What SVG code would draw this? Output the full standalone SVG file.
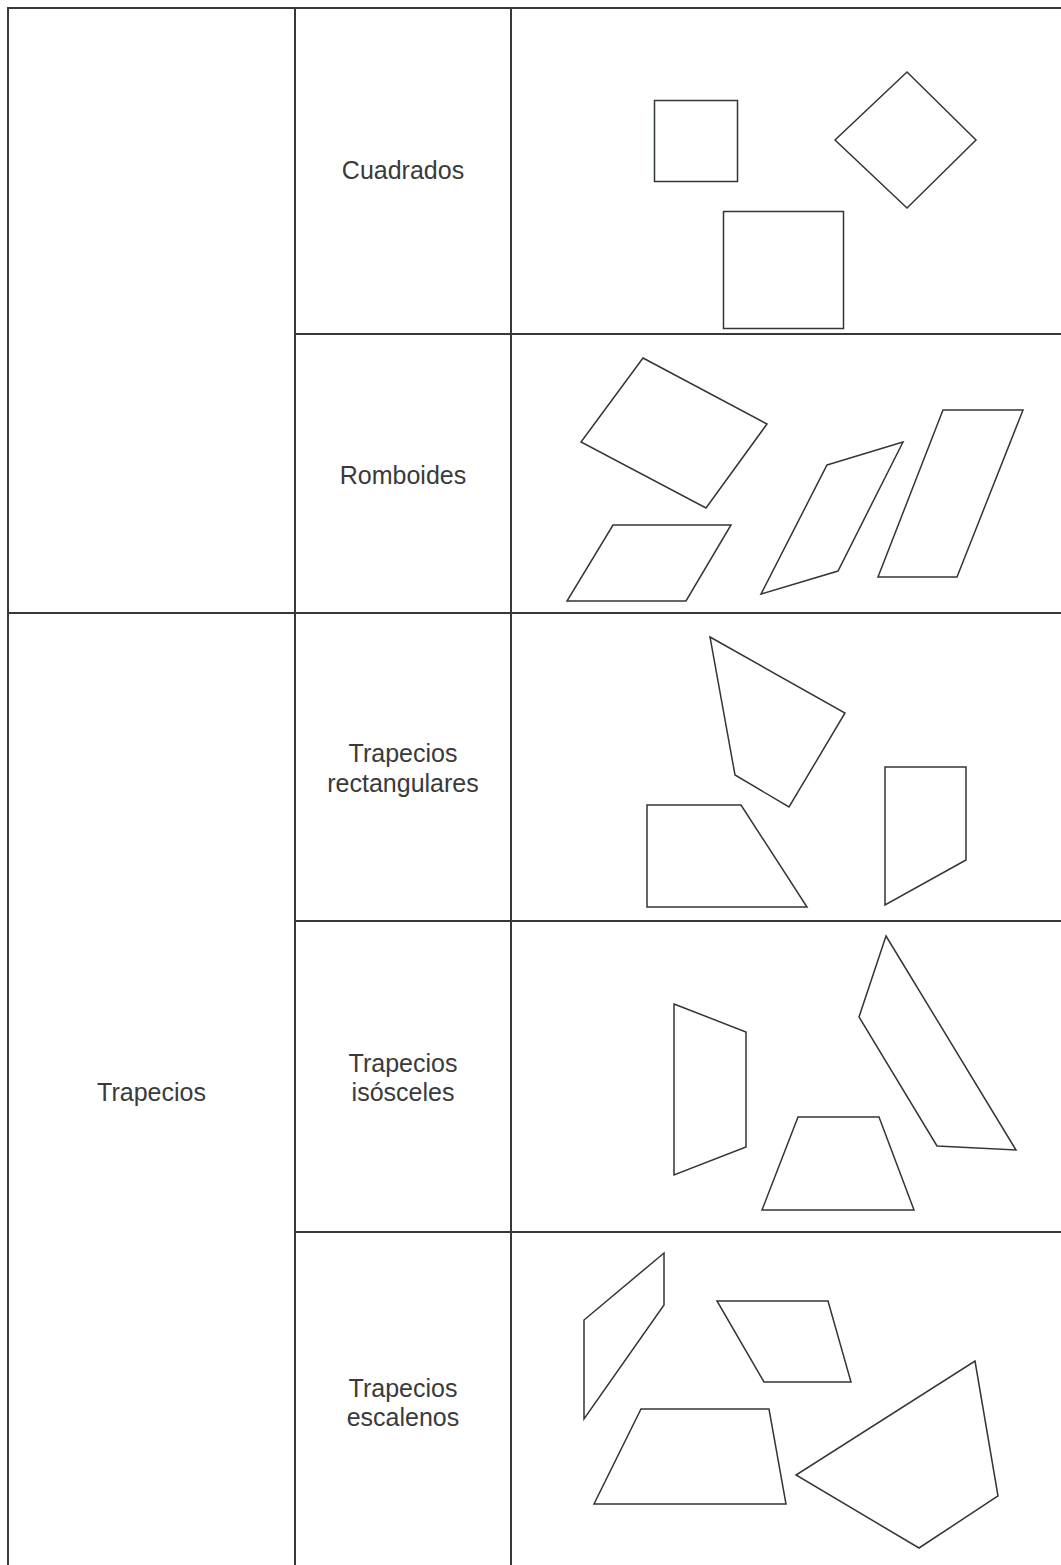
<svg xmlns="http://www.w3.org/2000/svg" width="1061" height="1565" viewBox="0 0 1061 1565">
<style>
.grid{stroke:#383838;stroke-width:2;fill:none}
.shp{stroke:#2f3833;stroke-width:1.5;fill:none;stroke-linejoin:miter}
.lbl{font-family:"Liberation Sans",Arial,sans-serif;font-size:25px;fill:#3a3a3a;text-anchor:middle}
</style>
<rect width="1061" height="1565" fill="#ffffff"/>
<g id="table-grid">
<line class="grid" x1="7" y1="8" x2="1061" y2="8"/>
<line class="grid" x1="8" y1="7" x2="8" y2="1565"/>
<line class="grid" x1="295" y1="8" x2="295" y2="1565"/>
<line class="grid" x1="511" y1="8" x2="511" y2="1565"/>
<line class="grid" x1="295" y1="334" x2="1061" y2="334"/>
<line class="grid" x1="8" y1="613" x2="1061" y2="613"/>
<line class="grid" x1="295" y1="921" x2="1061" y2="921"/>
<line class="grid" x1="295" y1="1232" x2="1061" y2="1232"/>
</g>
<g id="label-trapecios">
<text class="lbl" x="151.5" y="1101">Trapecios</text>
</g>
<g id="row-cuadrados">
<text class="lbl" x="403" y="179">Cuadrados</text>
<rect class="shp" x="654.5" y="100.5" width="83" height="81"/>
<polygon class="shp" points="907,72 976,140 907,208 835,140"/>
<rect class="shp" x="723.5" y="211.5" width="120" height="117"/>
</g>
<g id="row-romboides">
<text class="lbl" x="403" y="484">Romboides</text>
<polygon class="shp" points="643,358 767,424 706,508 581,442"/>
<polygon class="shp" points="613,525 731,525 686,601 567,601"/>
<polygon class="shp" points="827,465 903,442 838,571 761,594"/>
<polygon class="shp" points="943,410 1023,410 957,577 878,577"/>
</g>
<g id="row-trapecios-rectangulares">
<text class="lbl" x="403" y="762">Trapecios</text>
<text class="lbl" x="403" y="792">rectangulares</text>
<polygon class="shp" points="710,637 845,713 789,807 735,775"/>
<polygon class="shp" points="647,805 741,805 807,907 647,907"/>
<polygon class="shp" points="885,767 966,767 966,860 885,905"/>
</g>
<g id="row-trapecios-isosceles">
<text class="lbl" x="403" y="1072">Trapecios</text>
<text class="lbl" x="403" y="1101">isósceles</text>
<polygon class="shp" points="674,1004 746,1032 746,1147 674,1175"/>
<polygon class="shp" points="798,1117 879,1117 914,1210 762,1210"/>
<polygon class="shp" points="886,936 1016,1150 937,1146 859,1017"/>
</g>
<g id="row-trapecios-escalenos">
<text class="lbl" x="403" y="1397">Trapecios</text>
<text class="lbl" x="403" y="1426">escalenos</text>
<polygon class="shp" points="664,1253 664,1305 584,1419 584,1320"/>
<polygon class="shp" points="717,1301 828,1301 851,1382 764,1382"/>
<polygon class="shp" points="641,1409 769,1409 786,1504 594,1504"/>
<polygon class="shp" points="975,1361 998,1496 919,1548 796,1475"/>
</g>
</svg>
